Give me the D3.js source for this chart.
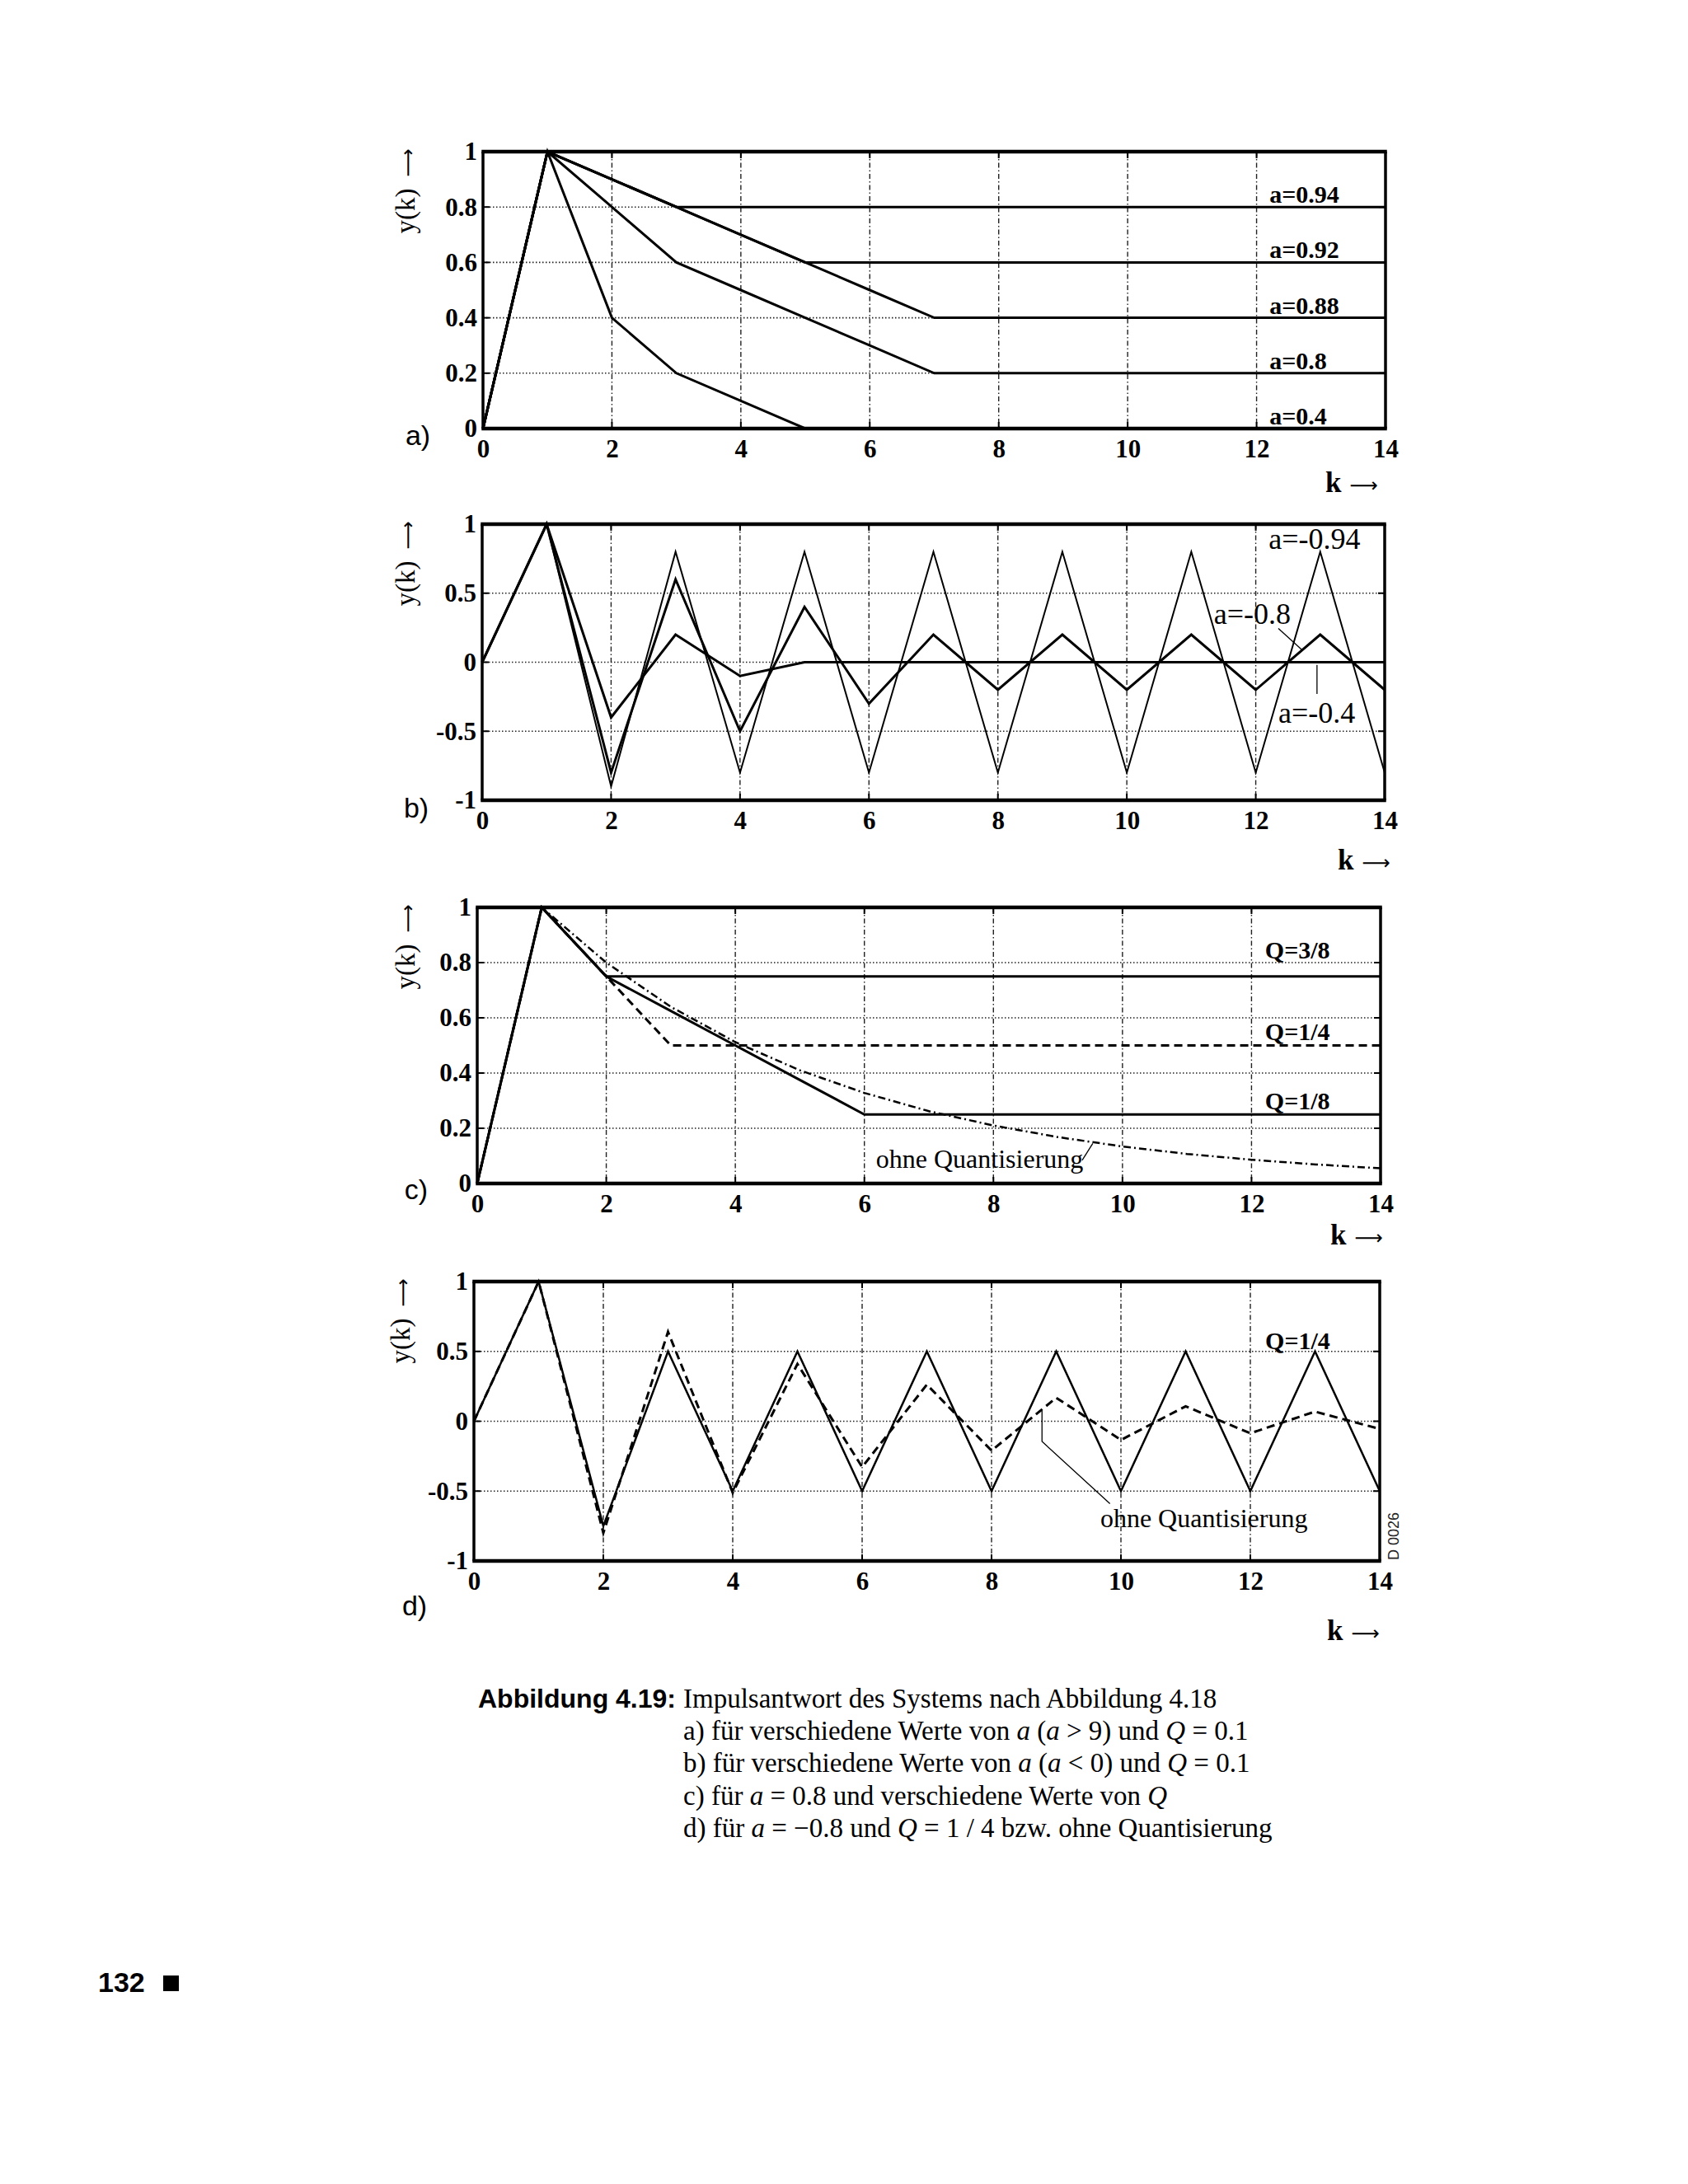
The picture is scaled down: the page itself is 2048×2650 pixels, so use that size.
<!DOCTYPE html>
<html><head><meta charset="utf-8">
<script src="https://cdn.jsdelivr.net/npm/d3@7"></script>
<style>
html,body{margin:0;padding:0;background:#fff;}
svg{display:block;}
</style></head><body>
<svg id="fig" width="2048" height="2650"></svg>
<script>
// ---------- data ----------
const kValues = [0,1,2,3,4,5,6,7,8,9,10,11,12,13,14];
const xTicks = [0,2,4,6,8,10,12,14];
const yTicksPos = [0,0.2,0.4,0.6,0.8,1];
const yTicksSym = [-1,-0.5,0,0.5,1];

// a) a > 0, Q = 0.1
const labelsA = ["a=0.94","a=0.92","a=0.88","a=0.8","a=0.4"];
const yA094 = [0,1,0.9,0.8,0.8,0.8,0.8,0.8,0.8,0.8,0.8,0.8,0.8,0.8,0.8];
const yA092 = [0,1,0.9,0.8,0.7,0.6,0.6,0.6,0.6,0.6,0.6,0.6,0.6,0.6,0.6];
const yA088 = [0,1,0.9,0.8,0.7,0.6,0.5,0.4,0.4,0.4,0.4,0.4,0.4,0.4,0.4];
const yA080 = [0,1,0.8,0.6,0.5,0.4,0.3,0.2,0.2,0.2,0.2,0.2,0.2,0.2,0.2];
const yA040 = [0,1,0.4,0.2,0.1,0,0,0,0,0,0,0,0,0,0];

// b) a < 0, Q = 0.1
const labelsB = ["a=-0.94","a=-0.8","a=-0.4"];
const yBm094 = [0,1,-0.9,0.8,-0.8,0.8,-0.8,0.8,-0.8,0.8,-0.8,0.8,-0.8,0.8,-0.8];
const yBm080 = [0,1,-0.8,0.6,-0.5,0.4,-0.3,0.2,-0.2,0.2,-0.2,0.2,-0.2,0.2,-0.2];
const yBm040 = [0,1,-0.4,0.2,-0.1,0,0,0,0,0,0,0,0,0,0];

// c) a = 0.8, various Q
const labelsC = ["Q=3/8","Q=1/4","Q=1/8","ohne Quantisierung"];
const yCq38 = [0,1,0.75,0.75,0.75,0.75,0.75,0.75,0.75,0.75,0.75,0.75,0.75,0.75,0.75];
const yCq14 = [0,1,0.75,0.5,0.5,0.5,0.5,0.5,0.5,0.5,0.5,0.5,0.5,0.5,0.5];
const yCq18 = [0,1,0.75,0.625,0.5,0.375,0.25,0.25,0.25,0.25,0.25,0.25,0.25,0.25,0.25];
const yCexact = [0,1,0.8,0.64,0.512,0.41,0.328,0.262,0.21,0.168,0.134,0.107,0.086,0.069,0.055];

// d) a = -0.8, Q = 1/4 / unquantized
const labelsD = ["Q=1/4","ohne Quantisierung"];
const yDq14 = [0,1,-0.75,0.5,-0.5,0.5,-0.5,0.5,-0.5,0.5,-0.5,0.5,-0.5,0.5,-0.5];
const yDexact = [0,1,-0.8,0.64,-0.512,0.41,-0.328,0.262,-0.21,0.168,-0.134,0.107,-0.086,0.069,-0.055];

const captionTitle = "Abbildung 4.19:";
const pageNumber = "132";

// ---------- drawing ----------
const svg = d3.select("#fig");
const SERIF = "'Liberation Serif','DejaVu Serif',serif";
const SANS = "'Liberation Sans',Arial,sans-serif";
const ARROWF = "'DejaVu Sans',sans-serif";
const ARROW = "\u27F6";

function panel(o){
  const xs = d3.scaleLinear().domain([0,14]).range([o.x0,o.x1]);
  const ys = d3.scaleLinear().domain(o.yDomain).range([o.y1,o.y0]);
  const g = svg.append("g");
  // grid
  g.selectAll(".vg").data(xTicks.slice(1,-1)).join("line")
    .attr("x1",d=>xs(d)).attr("x2",d=>xs(d)).attr("y1",o.y0).attr("y2",o.y1)
    .attr("stroke","#222").attr("stroke-width",1.4).attr("stroke-dasharray","6,3,1.5,3");
  g.selectAll(".hg").data(o.yTicks.slice(1,-1)).join("line")
    .attr("x1",o.x0).attr("x2",o.x1).attr("y1",d=>ys(d)).attr("y2",d=>ys(d))
    .attr("stroke","#222").attr("stroke-width",1.6).attr("stroke-dasharray","1.5,2.5");
  // inner ticks
  const tl = 8;
  g.selectAll(".tb").data(xTicks).join("line")
    .attr("x1",d=>xs(d)).attr("x2",d=>xs(d)).attr("y1",o.y1).attr("y2",o.y1-tl)
    .attr("stroke","#000").attr("stroke-width",2);
  g.selectAll(".tt").data(xTicks).join("line")
    .attr("x1",d=>xs(d)).attr("x2",d=>xs(d)).attr("y1",o.y0).attr("y2",o.y0+tl)
    .attr("stroke","#000").attr("stroke-width",2);
  g.selectAll(".tlft").data(o.yTicks).join("line")
    .attr("x1",o.x0).attr("x2",o.x0+tl).attr("y1",d=>ys(d)).attr("y2",d=>ys(d))
    .attr("stroke","#000").attr("stroke-width",2);
  g.selectAll(".trt").data(o.yTicks).join("line")
    .attr("x1",o.x1).attr("x2",o.x1-tl).attr("y1",d=>ys(d)).attr("y2",d=>ys(d))
    .attr("stroke","#000").attr("stroke-width",2);
  // series
  const line = d3.line().x((d,i)=>xs(kValues[i])).y(d=>ys(d));
  o.series.forEach(s=>{
    g.append("path").datum(s.values).attr("d",line).attr("fill","none")
      .attr("stroke","#000").attr("stroke-width",s.w)
      .attr("stroke-linejoin","miter").attr("stroke-dasharray",s.dash||null);
  });
  // frame
  g.append("line").attr("x1",o.x0).attr("x2",o.x0).attr("y1",o.y0).attr("y2",o.y1).attr("stroke","#000").attr("stroke-width",3.5);
  g.append("line").attr("x1",o.x1).attr("x2",o.x1).attr("y1",o.y0).attr("y2",o.y1).attr("stroke","#000").attr("stroke-width",3.5);
  g.append("line").attr("x1",o.x0-1.75).attr("x2",o.x1+1.75).attr("y1",o.y0).attr("y2",o.y0).attr("stroke","#000").attr("stroke-width",4.5);
  g.append("line").attr("x1",o.x0-1.75).attr("x2",o.x1+1.75).attr("y1",o.y1).attr("y2",o.y1).attr("stroke","#000").attr("stroke-width",4.5);
  // axes (labels only)
  const ax = g.append("g").attr("transform",`translate(0,${o.y1})`)
    .call(d3.axisBottom(xs).tickValues(xTicks).tickSize(0).tickPadding(13).tickFormat(d=>String(d)));
  const ay = g.append("g").attr("transform",`translate(${o.x0},0)`)
    .call(d3.axisLeft(ys).tickValues(o.yTicks).tickSize(0).tickPadding(7).tickFormat(d=>String(d)));
  [ax,ay].forEach(a=>{
    a.select(".domain").remove();
    a.selectAll("text").attr("font-family",SERIF).attr("font-weight","bold")
      .attr("font-size",31).attr("fill","#000");
  });
  // y label (rotated)
  const yl = g.append("text")
    .attr("transform",`translate(${o.ylx},${o.y0-4}) rotate(-90)`)
    .attr("text-anchor","end").attr("font-family",SERIF).attr("font-size",33).attr("fill","#000");
  yl.append("tspan").text("y(k)");
  yl.append("tspan").attr("dx",14).attr("font-family",ARROWF).attr("font-size",24).text(ARROW);
  // k label
  const kl = g.append("text").attr("x",o.klx).attr("y",o.y1+o.kly)
    .attr("font-family",SERIF).attr("font-size",35).attr("fill","#000");
  kl.append("tspan").attr("font-weight","bold").text("k");
  kl.append("tspan").attr("dx",10).attr("font-family",ARROWF).attr("font-size",24).text(ARROW);
  // panel letter
  g.append("text").attr("x",o.lx).attr("y",o.ly).attr("text-anchor","middle")
    .attr("font-family",SANS).attr("font-size",34).attr("fill","#000").text(o.letter);
  return {xs,ys,g};
}

// ---- panel a ----
const pa = panel({x0:586,x1:1681,y0:184,y1:520,yDomain:[0,1],yTicks:yTicksPos,
  ylx:503,klx:1608,kly:77,lx:507,ly:540,letter:"a)",
  series:[{values:yA040,w:3},{values:yA080,w:3},{values:yA088,w:3},{values:yA092,w:3},{values:yA094,w:3}]});
[yA094,yA092,yA088,yA080,yA040].forEach((s,i)=>{
  pa.g.append("text").attr("x",pa.xs(12.2)).attr("y",pa.ys(s[s.length-1])-5)
    .attr("font-family",SERIF).attr("font-weight","bold").attr("font-size",30)
    .text(labelsA[i]);
});

// ---- panel b ----
const pb = panel({x0:585,x1:1680,y0:636,y1:971,yDomain:[-1,1],yTicks:yTicksSym,
  ylx:503,klx:1623,kly:84,lx:505,ly:992,letter:"b)",
  series:[{values:yBm094,w:2},{values:yBm080,w:3},{values:yBm040,w:3}]});
const bLab = [[12.2,0.82],[11.35,0.28],[12.35,-0.44]];
labelsB.forEach((t,i)=>{
  pb.g.append("text").attr("x",pb.xs(bLab[i][0])).attr("y",pb.ys(bLab[i][1]))
    .attr("font-family",SERIF).attr("font-size",36).text(t);
});
pb.g.append("line").attr("x1",pb.xs(12.35)).attr("y1",pb.ys(0.245)).attr("x2",pb.xs(12.72)).attr("y2",pb.ys(0.088))
  .attr("stroke","#000").attr("stroke-width",1.3);
pb.g.append("line").attr("x1",pb.xs(12.95)).attr("y1",pb.ys(-0.02)).attr("x2",pb.xs(12.95)).attr("y2",pb.ys(-0.23))
  .attr("stroke","#000").attr("stroke-width",1.3);

// ---- panel c ----
const pc = panel({x0:579,x1:1675,y0:1101,y1:1436,yDomain:[0,1],yTicks:yTicksPos,
  ylx:503,klx:1614,kly:74,lx:505,ly:1455,letter:"c)",
  series:[{values:yCexact,w:2.5,dash:"9,4,2,4"},{values:yCq14,w:3,dash:"10,6"},{values:yCq18,w:3},{values:yCq38,w:3}]});
const cLab = [[12.21,0.815],[12.21,0.52],[12.21,0.268]];
cLab.forEach((p,i)=>{
  pc.g.append("text").attr("x",pc.xs(p[0])).attr("y",pc.ys(p[1]))
    .attr("font-family",SERIF).attr("font-weight","bold").attr("font-size",30).text(labelsC[i]);
});
pc.g.append("text").attr("x",pc.xs(6.18)).attr("y",pc.ys(0.058))
  .attr("font-family",SERIF).attr("font-size",32).text(labelsC[3]);
pc.g.append("line").attr("x1",pc.xs(9.375)).attr("y1",pc.ys(0.084)).attr("x2",pc.xs(9.54)).attr("y2",pc.ys(0.145))
  .attr("stroke","#000").attr("stroke-width",1.3);

// ---- panel d ----
const pd = panel({x0:575,x1:1674,y0:1555,y1:1894,yDomain:[-1,1],yTicks:yTicksSym,
  ylx:497,klx:1610,kly:96,lx:503,ly:1960,letter:"d)",
  series:[{values:yDexact,w:3,dash:"10,6"},{values:yDq14,w:2.5}]});
pd.g.append("text").attr("x",pd.xs(12.23)).attr("y",pd.ys(0.516))
  .attr("font-family",SERIF).attr("font-weight","bold").attr("font-size",30).text(labelsD[0]);
pd.g.append("text").attr("x",pd.xs(9.68)).attr("y",pd.ys(-0.76))
  .attr("font-family",SERIF).attr("font-size",32).text(labelsD[1]);
pd.g.append("polyline")
  .attr("points",[[pd.xs(8.78),pd.ys(0.074)],[pd.xs(8.78),pd.ys(-0.145)],[pd.xs(9.83),pd.ys(-0.59)]].map(p=>p.join(",")).join(" "))
  .attr("fill","none").attr("stroke","#000").attr("stroke-width",1.3);
svg.append("text").attr("transform","translate(1697,1864) rotate(-90)").attr("text-anchor","middle")
  .attr("font-family",SANS).attr("font-size",18).attr("fill","#222").text("D 0026");

// ---- caption ----
const cap = svg.append("g");
cap.append("text").attr("x",580).attr("y",2072).attr("font-family",SANS).attr("font-weight","bold")
  .attr("font-size",32).text(captionTitle);
const capLines = [
  [["Impulsantwort des Systems nach Abbildung 4.18",0]],
  [["a) für verschiedene Werte von ",0],["a",1],[" (",0],["a",1],[" > 9) und ",0],["Q",1],[" = 0.1",0]],
  [["b) für verschiedene Werte von ",0],["a",1],[" (",0],["a",1],[" < 0) und ",0],["Q",1],[" = 0.1",0]],
  [["c) für ",0],["a",1],[" = 0.8 und verschiedene Werte von ",0],["Q",1]],
  [["d) für ",0],["a",1],[" = \u22120.8 und ",0],["Q",1],[" = 1 / 4 bzw. ohne Quantisierung",0]]
];
capLines.forEach((ln,i)=>{
  const t = cap.append("text").attr("x",829).attr("y",2072+i*39.2)
    .attr("font-family",SERIF).attr("font-size",33).attr("xml:space","preserve");
  ln.forEach(([s,it])=>t.append("tspan").attr("font-style",it?"italic":null).text(s));
});

// ---- page number ----
svg.append("text").attr("x",119).attr("y",2417).attr("font-family",SANS).attr("font-weight","bold")
  .attr("font-size",34).text(pageNumber);
svg.append("rect").attr("x",198).attr("y",2397).attr("width",19).attr("height",19).attr("fill","#000");
</script>
</body></html>
